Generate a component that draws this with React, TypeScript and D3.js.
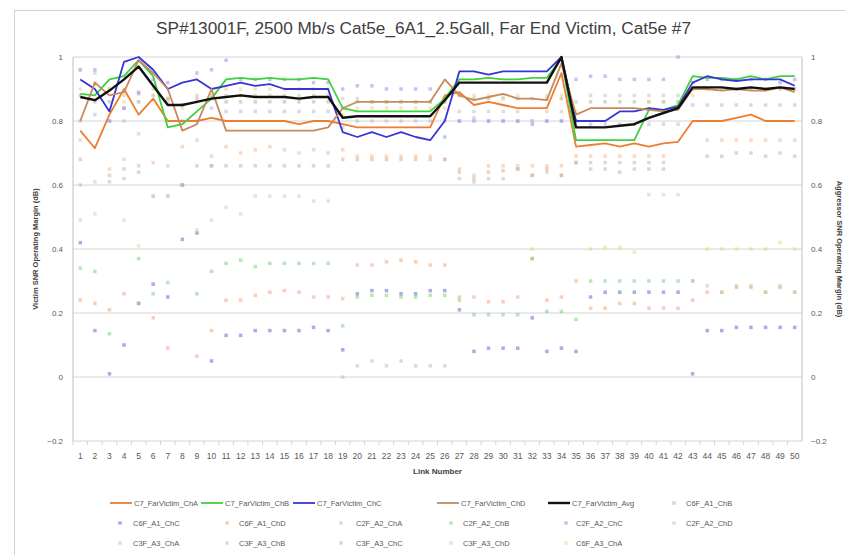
import * as d3 from "d3"

const links = [1, 2, 3, 4, 5, 6, 7, 8, 9, 10, 11, 12, 13, 14, 15, 16, 17, 18, 19, 20, 21, 22, 23, 24, 25, 26, 27, 28, 29, 30, 31, 32, 33, 34, 35, 36, 37, 38, 39, 40, 41, 42, 43, 44, 45, 46, 47, 48, 49, 50]
const yTicks = [-0.2, 0, 0.2, 0.4, 0.6, 0.8, 1]

type V = number | null

// victim lines
const victimChA: V[] = [0.77, 0.715, 0.82, 0.9, 0.82, 0.87, 0.8, 0.8, 0.8, 0.81, 0.8, 0.8, 0.8, 0.8, 0.8, 0.79, 0.8, 0.8, 0.79, 0.78, 0.78, 0.78, 0.78, 0.78, 0.78, 0.88, 0.89, 0.85, 0.86, 0.85, 0.84, 0.84, 0.84, 0.95, 0.72, 0.725, 0.73, 0.72, 0.73, 0.72, 0.73, 0.735, 0.8, 0.8, 0.8, 0.81, 0.82, 0.8, 0.8, 0.8]
const victimChB: V[] = [0.885, 0.88, 0.93, 0.94, 0.99, 0.94, 0.78, 0.79, 0.83, 0.87, 0.93, 0.935, 0.93, 0.935, 0.93, 0.93, 0.935, 0.93, 0.84, 0.83, 0.83, 0.83, 0.83, 0.83, 0.83, 0.87, 0.93, 0.93, 0.935, 0.93, 0.93, 0.935, 0.935, 0.995, 0.74, 0.74, 0.74, 0.74, 0.74, 0.835, 0.835, 0.85, 0.94, 0.935, 0.935, 0.93, 0.94, 0.93, 0.94, 0.94]
const victimChC: V[] = [0.93, 0.9, 0.83, 0.985, 1.0, 0.96, 0.9, 0.92, 0.93, 0.9, 0.91, 0.92, 0.91, 0.915, 0.9, 0.9, 0.9, 0.9, 0.765, 0.75, 0.765, 0.75, 0.765, 0.75, 0.74, 0.8, 0.955, 0.955, 0.945, 0.955, 0.955, 0.955, 0.955, 1.0, 0.8, 0.8, 0.8, 0.83, 0.83, 0.84, 0.835, 0.845, 0.92, 0.94, 0.93, 0.925, 0.93, 0.93, 0.93, 0.91]
const victimChD: V[] = [0.8, 0.92, 0.88, 0.89, 0.99, 0.95, 0.9, 0.77, 0.79, 0.9, 0.77, 0.77, 0.77, 0.77, 0.77, 0.77, 0.77, 0.78, 0.84, 0.86, 0.86, 0.86, 0.86, 0.86, 0.86, 0.93, 0.88, 0.865, 0.875, 0.885, 0.87, 0.87, 0.865, 0.98, 0.82, 0.84, 0.84, 0.84, 0.84, 0.835, 0.83, 0.835, 0.9, 0.9, 0.895, 0.9, 0.895, 0.895, 0.905, 0.89]
const victimAvg: V[] = [0.875, 0.865, 0.895, 0.93, 0.97, 0.91, 0.85, 0.85, 0.86, 0.87, 0.875, 0.88, 0.875, 0.875, 0.875, 0.87, 0.875, 0.875, 0.81, 0.815, 0.815, 0.815, 0.815, 0.815, 0.815, 0.865, 0.92, 0.92, 0.92, 0.92, 0.92, 0.92, 0.92, 1.0, 0.78, 0.78, 0.78, 0.785, 0.79, 0.81, 0.825, 0.84, 0.905, 0.905, 0.905, 0.9, 0.905, 0.9, 0.905, 0.9]

// aggressor points
const c6fA1ChB: V[] = [0.88, 0.86, 0.86, 0.84, 0.885, 0.95, 0.87, 0.85, 0.87, 0.87, 0.86, 0.86, 0.86, 0.86, 0.86, 0.86, 0.86, 0.86, 0.84, 0.86, 0.86, 0.86, 0.86, 0.86, 0.86, 0.86, 0.88, 0.87, 0.87, 0.87, 0.87, 0.87, 0.87, 0.87, 0.8, 0.86, 0.86, 0.86, 0.86, 0.86, 0.86, 0.86, 0.9, 0.9, 0.9, 0.9, 0.9, 0.9, 0.9, 0.9]
const c6fA1ChC: V[] = [0.42, 0.145, 0.01, 0.1, 0.23, 0.29, 0.25, 0.43, 0.45, 0.05, 0.13, 0.13, 0.145, 0.145, 0.145, 0.145, 0.155, 0.145, 0.085, 0.26, 0.27, 0.27, 0.26, 0.26, 0.27, 0.27, 0.21, 0.08, 0.09, 0.09, 0.09, 0.185, 0.08, 0.09, 0.08, 0.25, 0.265, 0.265, 0.265, 0.265, 0.265, 0.265, 0.01, 0.145, 0.145, 0.155, 0.155, 0.155, 0.155, 0.155]
const c6fA1ChD: V[] = [0.24, 0.23, 0.21, 0.26, 0.23, 0.185, 0.09, null, 0.065, 0.145, 0.24, 0.24, 0.255, 0.265, 0.27, 0.265, 0.25, 0.25, 0.245, 0.35, 0.35, 0.36, 0.365, 0.36, 0.35, 0.35, 0.25, 0.25, 0.235, 0.235, 0.25, 0.37, 0.24, 0.25, 0.3, 0.215, 0.215, 0.23, 0.23, 0.215, 0.215, 0.215, 0.24, 0.265, 0.265, 0.28, 0.28, 0.265, 0.28, 0.265]
const c2fA2ChA: V[] = [0.8, 0.82, 0.8, 0.8, 0.86, 0.88, 0.86, 0.8, 0.8, 0.84, 0.83, 0.83, 0.83, 0.83, 0.83, 0.83, 0.83, 0.83, 0.78, 0.8, 0.8, 0.8, 0.8, 0.8, 0.8, 0.8, 0.8, 0.81, 0.8, 0.8, 0.8, 0.8, 0.8, 0.8, 0.8, 0.79, 0.79, 0.79, 0.79, 0.79, 0.79, 0.79, 0.85, 0.85, 0.85, 0.85, 0.85, 0.85, 0.85, 0.85]
const c2fA2ChB: V[] = [0.34, 0.33, 0.135, null, 0.37, 0.26, 0.295, null, 0.26, 0.33, 0.355, 0.365, 0.345, 0.355, 0.355, 0.355, 0.355, 0.355, 0.16, 0.25, 0.255, 0.255, 0.25, 0.25, 0.255, 0.255, 0.24, 0.195, 0.195, 0.195, 0.195, 0.37, 0.205, 0.205, 0.18, 0.3, 0.3, 0.3, 0.3, 0.3, 0.3, 0.3, 0.3, null, null, null, null, null, null, null]
const c2fA2ChC: V[] = [0.96, 0.96, 0.8, 0.84, 0.89, 0.93, 0.92, 0.6, 0.95, 0.96, 0.99, 0.93, 0.93, 0.93, 0.93, 0.93, 0.92, 0.92, 0.9, 0.91, 0.91, 0.9, 0.9, 0.9, 0.9, 0.75, 0.8, 0.8, 0.8, 0.8, 0.8, 0.79, 0.8, 0.8, 0.93, 0.94, 0.94, 0.93, 0.93, 0.93, 0.93, 1.0, 0.92, 0.93, 0.93, 0.93, 0.93, 0.93, 0.92, 0.93]
const c2fA2ChD: V[] = [0.96, 0.95, 0.9, 0.88, 0.86, 0.9, 0.87, 0.85, 0.88, 0.88, 0.88, 0.88, 0.88, 0.88, 0.88, 0.88, 0.88, 0.88, 0.87, 0.87, 0.86, 0.86, 0.86, 0.86, 0.86, 0.86, 0.83, 0.83, 0.83, 0.83, 0.83, 0.8, 0.83, 0.83, 0.86, 0.88, 0.88, 0.88, 0.88, 0.88, 0.88, 0.88, 0.3, 0.285, 0.265, 0.285, 0.285, 0.265, 0.285, 0.265]
const c3fA3ChA: V[] = [0.74, 0.61, 0.65, 0.68, 0.76, 0.67, 0.66, 0.72, 0.74, 0.69, 0.72, 0.7, 0.71, 0.72, 0.71, 0.7, 0.71, 0.7, 0.71, 0.69, 0.69, 0.69, 0.69, 0.69, 0.69, 0.68, 0.65, 0.63, 0.66, 0.66, 0.66, 0.66, 0.66, 0.66, 0.69, 0.69, 0.69, 0.69, 0.69, 0.69, 0.69, null, null, 0.74, 0.74, 0.74, 0.74, 0.74, 0.74, 0.74]
const c3fA3ChB: V[] = [0.6, null, 0.61, 0.62, 0.66, null, null, 0.6, null, 0.66, null, null, null, null, null, null, null, null, 0.0, 0.035, 0.05, 0.035, 0.05, 0.035, 0.035, 0.035, 0.62, 0.61, 0.62, 0.62, 0.65, 0.63, 0.64, 0.63, 0.67, 0.67, 0.67, 0.67, 0.67, 0.67, 0.67, null, null, null, null, null, null, null, null, null]
const c3fA3ChC: V[] = [0.68, null, 0.63, 0.65, 0.64, 0.565, 0.565, 0.6, 0.66, 0.66, 0.66, 0.66, 0.66, 0.66, 0.66, 0.66, 0.66, 0.66, 0.68, 0.68, 0.68, 0.68, 0.68, 0.68, 0.68, 0.68, 0.64, 0.62, 0.64, 0.645, 0.65, 0.63, 0.65, 0.63, 0.67, 0.65, 0.65, 0.64, 0.65, 0.65, 0.65, null, null, 0.69, 0.69, 0.7, 0.7, 0.69, 0.7, 0.69]
const c3fA3ChD: V[] = [0.49, 0.51, null, 0.49, null, 0.565, 0.565, null, 0.46, 0.49, 0.53, 0.51, 0.565, 0.565, 0.565, 0.565, 0.55, 0.55, null, null, null, null, null, null, null, null, null, null, null, null, null, null, null, null, null, null, null, null, null, 0.57, 0.57, 0.57, null, null, null, null, null, null, null, null]
const c6fA3ChA: V[] = [0.9, 0.92, 0.9, 0.86, 0.41, 0.88, 0.87, 0.84, 0.86, 0.88, 0.9, 0.9, 0.9, 0.9, 0.9, 0.9, 0.9, 0.9, 0.82, 0.84, 0.84, 0.84, 0.84, 0.84, 0.84, 0.84, 0.88, 0.88, 0.88, 0.88, 0.88, 0.4, 0.88, 0.88, 0.83, 0.4, 0.405, 0.405, 0.39, 0.86, 0.86, 0.86, 0.88, 0.4, 0.4, 0.4, 0.4, 0.4, 0.42, 0.4]

const lineSeries = [
  { name: "C7_FarVictim_ChA", values: victimChA, color: "#ed7d31", width: 1.8 },
  { name: "C7_FarVictim_ChB", values: victimChB, color: "#3fd13f", width: 1.8 },
  { name: "C7_FarVictim_ChC", values: victimChC, color: "#3535d8", width: 1.8 },
  { name: "C7_FarVictim_ChD", values: victimChD, color: "#c68a5c", width: 1.8 },
  { name: "C7_FarVictim_Avg", values: victimAvg, color: "#111111", width: 2.4 },
]

const pointSeries = [
  { name: "C6F_A1_ChB", values: c6fA1ChB, color: "#b5aa8f" },
  { name: "C6F_A1_ChC", values: c6fA1ChC, color: "#5a5ad0" },
  { name: "C6F_A1_ChD", values: c6fA1ChD, color: "#f0a070" },
  { name: "C2F_A2_ChA", values: c2fA2ChA, color: "#b0b0e6" },
  { name: "C2F_A2_ChB", values: c2fA2ChB, color: "#6fd06f" },
  { name: "C2F_A2_ChC", values: c2fA2ChC, color: "#8a8ae6" },
  { name: "C2F_A2_ChD", values: c2fA2ChD, color: "#c8c0a0" },
  { name: "C3F_A3_ChA", values: c3fA3ChA, color: "#f2b48a" },
  { name: "C3F_A3_ChB", values: c3fA3ChB, color: "#b8b8b8" },
  { name: "C3F_A3_ChC", values: c3fA3ChC, color: "#d4aa8a" },
  { name: "C3F_A3_ChD", values: c3fA3ChD, color: "#e3c2a6" },
  { name: "C6F_A3_ChA", values: c6fA3ChA, color: "#e8d27a" },
]

const W = 845
const H = 555
const margin = { top: 57, right: 43, bottom: 114, left: 73 }
const font = "Liberation Sans, Arial, sans-serif"
const textCol = "#595959"

export default function App() {
  const x = d3.scaleBand<number>()
    .domain(links)
    .range([margin.left, W - margin.right])
  const y = d3.scaleLinear()
    .domain([-0.2, 1])
    .range([H - margin.bottom, margin.top])
  const cx = (l: number) => (x(l) ?? 0) + x.bandwidth() / 2

  const line = d3.line<V>()
    .defined(d => d != null)
    .x((_, i) => cx(links[i]))
    .y(d => y(d as number))

  const fmt = (v: number) => (Math.abs(v) < 1e-9 ? "0" : d3.format("~g")(v))

  // legend layout
  const legendRows = [503, 523, 543]
  const row1 = [
    { lx: 110, tx: 134 },
    { lx: 201, tx: 225 },
    { lx: 293, tx: 317 },
    { lx: 437, tx: 461 },
    { lx: 548, tx: 572 },
  ]
  const pointCols = [
    { mx: 120, tx: 133 },
    { mx: 227, tx: 239 },
    { mx: 341, tx: 356 },
    { mx: 451, tx: 463 },
    { mx: 566, tx: 576 },
    { mx: 674, tx: 686 },
  ]
  const pointLegend = pointSeries.map((s, i) => {
    // first point entry sits at the end of row 1
    if (i === 0) return { s, mx: pointCols[5].mx, tx: pointCols[5].tx, y: legendRows[0] }
    const k = i - 1
    const r = Math.floor(k / 6) + 1
    const c = k % 6
    return { s, mx: pointCols[c].mx, tx: pointCols[c].tx, y: legendRows[r] }
  })

  const plotMidY = (y(1) + y(-0.2)) / 2

  return (
    <svg width={W} height={H} style={{ position: "absolute", left: 0, top: 0, background: "#fff" }}>
      <rect x={14.5} y={10.5} width={W} height={H} fill="#fff" stroke="#d0d0d0" />

      <text x={W / 2 + 1} y={34} textAnchor="middle" fontFamily={font} fontSize={16} fill="#404040"
        textLength={535} lengthAdjust="spacingAndGlyphs">
        SP#13001F, 2500 Mb/s Cat5e_6A1_2.5Gall, Far End Victim, Cat5e #7
      </text>

      {/* grid */}
      {yTicks.map(t => (
        <line key={t} x1={margin.left} x2={W - margin.right} y1={y(t)} y2={y(t)} stroke="#d4d4d4" strokeWidth={1} />
      ))}
      <line x1={margin.left} x2={margin.left} y1={y(1)} y2={y(-0.2)} stroke="#bfbfbf" />
      <line x1={W - margin.right} x2={W - margin.right} y1={y(1)} y2={y(-0.2)} stroke="#bfbfbf" />
      {links.map(l => (
        <line key={l} x1={x(l)} x2={x(l)} y1={y(-0.2)} y2={y(-0.2) + 4} stroke="#d4d4d4" />
      ))}

      {/* y tick labels */}
      {yTicks.map(t => (
        <g key={t}>
          <text x={margin.left - 10} y={y(t) + 3} textAnchor="end" fontFamily={font} fontSize={8} fill={textCol}>{fmt(t)}</text>
          <text x={W - margin.right + 9} y={y(t) + 3} textAnchor="start" fontFamily={font} fontSize={8} fill={textCol}>{fmt(t)}</text>
        </g>
      ))}

      {/* x tick labels */}
      {links.map(l => (
        <text key={l} x={cx(l)} y={459} textAnchor="middle" fontFamily={font} fontSize={8.5} fill={textCol}>{l}</text>
      ))}
      <text x={(margin.left + W - margin.right) / 2} y={474} textAnchor="middle" fontFamily={font} fontSize={8} fontWeight="bold" fill="#404040">Link Number</text>

      <text transform={`translate(38,${plotMidY}) rotate(-90)`} textAnchor="middle" fontFamily={font} fontSize={7.5} fontWeight="bold" fill="#404040">
        Victim SNR Operating Margin (dB)
      </text>
      <text transform={`translate(837,${plotMidY}) rotate(90)`} textAnchor="middle" fontFamily={font} fontSize={7.5} fontWeight="bold" fill="#404040">
        Aggressor SNR Operating Margin (dB)
      </text>

      {/* aggressor points */}
      {pointSeries.map(s => (
        <g key={s.name} fill={s.color} fillOpacity={0.5}>
          {s.values.map((v, i) => v == null ? null : (
            <rect key={i} x={cx(links[i]) - 1.75} y={y(v) - 1.75} width={3.5} height={3.5} />
          ))}
        </g>
      ))}

      {/* victim lines */}
      {lineSeries.map(s => (
        <path key={s.name} d={line(s.values) ?? ""} fill="none" stroke={s.color} strokeWidth={s.width} strokeLinejoin="round" />
      ))}

      {/* legend */}
      {lineSeries.map((s, i) => (
        <g key={s.name}>
          <line x1={row1[i].lx} x2={row1[i].lx + 22} y1={legendRows[0]} y2={legendRows[0]} stroke={s.color} strokeWidth={s.width} />
          <text x={row1[i].tx} y={legendRows[0] + 3} fontFamily={font} fontSize={7.5} fill={textCol}>{s.name}</text>
        </g>
      ))}
      {pointLegend.map(p => (
        <g key={p.s.name}>
          <rect x={p.mx - 1.75} y={p.y - 1.75} width={3.5} height={3.5} fill={p.s.color} fillOpacity={0.5} />
          <text x={p.tx} y={p.y + 3} fontFamily={font} fontSize={7.5} fill={textCol}>{p.s.name}</text>
        </g>
      ))}
    </svg>
  )
}
